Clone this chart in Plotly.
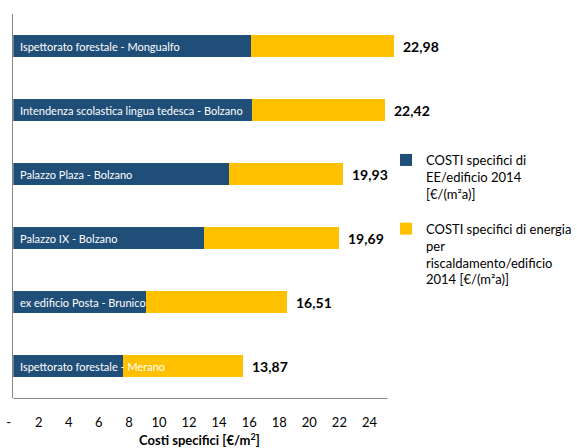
import plotly.graph_objects as go

# ---- data ----
categories = [
    "Ispettorato forestale - Mongualfo",
    "Intendenza scolastica lingua tedesca - Bolzano",
    "Palazzo Plaza - Bolzano",
    "Palazzo IX - Bolzano",
    "ex edificio Posta - Brunico",
    "Ispettorato forestale - Merano",
]
ee_costs = [14.32, 14.38, 13.05, 11.50, 8.03, 6.63]
heating_costs = [8.66, 8.04, 6.88, 8.19, 8.48, 7.24]
totals = [22.98, 22.42, 19.93, 19.69, 16.51, 13.87]
series_names = [
    "COSTI specifici di<br>EE/edificio 2014<br>[€/(m²a)]",
    "COSTI specifici di energia<br>per<br>riscaldamento/edificio<br>2014 [€/(m²a)]",
]
tick_values = [0, 2, 4, 6, 8, 10, 12, 14, 16, 18, 20, 22, 24]
tick_labels = ["-", "2", "4", "6", "8", "10", "12", "14", "16", "18", "20", "22", "24"]
axis_title = "Costi specifici [€/m<sup>2</sup>]"

# ---- layout helpers ----
W, H = 577, 448
FONT = "Lato"
BLUE = "#1F4E79"
YELLOW = "#FFC000"
AXIS_GREY = "#868686"

def px(p):
    return p / W

def py(p):
    return 1 - p / H

x0_px, x1_px = 13.4, 400.0
px_per_unit = 16.68
bar_range = [0, (x1_px - x0_px) / px_per_unit]

tick_zero_px, tick_scale = 8.7, 15.14
tick_dom_end = 390.0
tick_range = [-tick_zero_px / tick_scale, (tick_dom_end - tick_zero_px) / tick_scale]

fig = go.Figure()
fig.add_trace(go.Bar(
    y=categories, x=ee_costs, orientation="h", name=series_names[0],
    marker=dict(color=BLUE, line=dict(width=0)), legendgroup="a",
    hoverinfo="x+y",
))
fig.add_trace(go.Bar(
    y=categories, x=heating_costs, orientation="h", name=series_names[1],
    marker=dict(color=YELLOW, line=dict(width=0)), legendgroup="b",
    hoverinfo="x+y",
))
# invisible trace to hold the tick-label axis
fig.add_trace(go.Scatter(x=[], y=[], xaxis="x2", yaxis="y", showlegend=False))

annotations = []
for cat in categories:
    annotations.append(dict(
        x=0, y=cat, xref="x", yref="y", text=cat, showarrow=False,
        xanchor="left", yanchor="middle", xshift=5,
        font=dict(family=FONT, size=11, color="white"),
    ))
for cat, tot in zip(categories, totals):
    annotations.append(dict(
        x=tot, y=cat, xref="x", yref="y",
        text="<b>" + f"{tot:.2f}".replace(".", ",") + "</b>",
        showarrow=False, xanchor="left", yanchor="middle", xshift=7,
        font=dict(family=FONT, size=14, color="black"),
    ))
annotations.append(dict(
    x=px(201), y=py(439.5), xref="paper", yref="paper",
    text="<b>" + axis_title + "</b>", showarrow=False,
    xanchor="center", yanchor="middle",
    font=dict(family=FONT, size=13, color="black"),
))

fig.update_layout(
    width=W, height=H, autosize=False,
    margin=dict(l=0, r=0, t=0, b=0),
    paper_bgcolor="white", plot_bgcolor="rgba(0,0,0,0)",
    barmode="stack", bargap=0.656,
    font=dict(family=FONT, color="black"),
    xaxis=dict(
        domain=[px(x0_px), px(x1_px)], range=bar_range,
        showline=False, showgrid=False, zeroline=False,
        showticklabels=False, ticks="", fixedrange=True,
    ),
    xaxis2=dict(
        domain=[0, px(tick_dom_end)], range=tick_range, anchor="y",
        showline=False, showgrid=False, zeroline=False,
        tickmode="array", tickvals=tick_values, ticktext=tick_labels,
        ticks="outside", ticklen=12, tickcolor="rgba(0,0,0,0)",
        tickfont=dict(family=FONT, size=13, color="black"),
    ),
    yaxis=dict(
        domain=[py(398), py(14)], range=[5.5, -0.5],
        showline=True, linecolor=AXIS_GREY, linewidth=1,
        showgrid=False, zeroline=False, showticklabels=False, ticks="",
    ),
    legend=dict(
        x=px(389), y=py(145), xanchor="left", yanchor="top",
        valign="top", traceorder="grouped", tracegroupgap=15,
        font=dict(family=FONT, size=13, color="black"),
        bgcolor="rgba(0,0,0,0)",
    ),
    shapes=[dict(
        type="line", xref="paper", yref="paper",
        x0=px(x0_px), x1=px(tick_dom_end), y0=py(398.5), y1=py(398.5),
        line=dict(color=AXIS_GREY, width=1),
    )],
    annotations=annotations,
    showlegend=True,
)

fig.write_html("out.html", config={"responsive": False})
